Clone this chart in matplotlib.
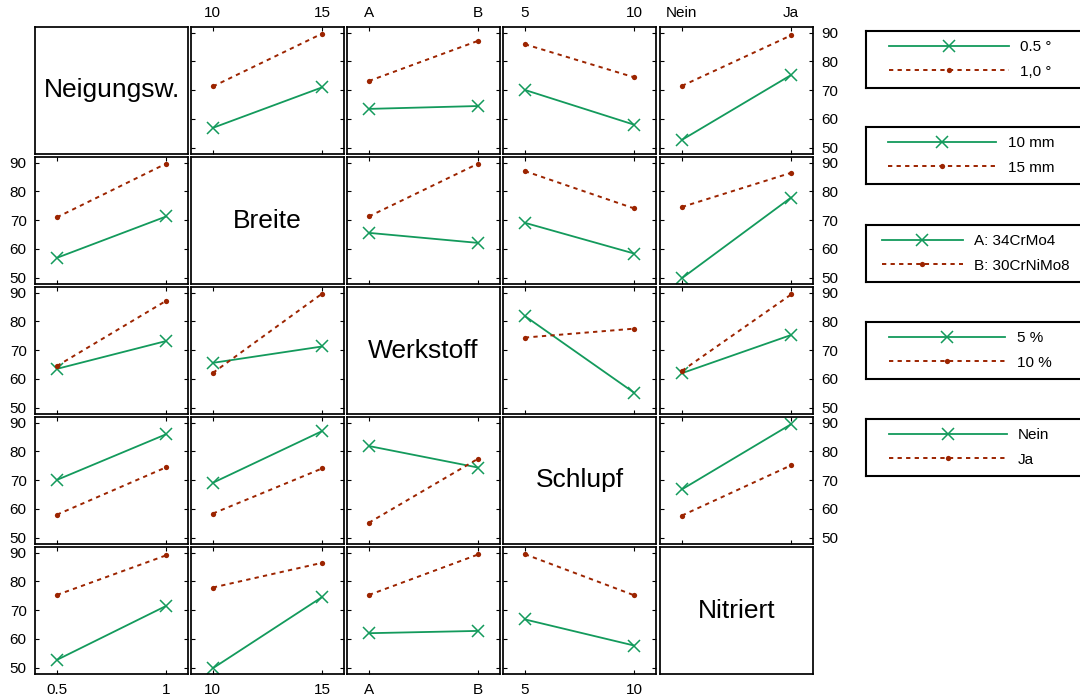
import numpy as np
import matplotlib
matplotlib.use("Agg")
import matplotlib.pyplot as plt

plt.rcParams['font.family'] = ['Liberation Sans', 'DejaVu Sans']

# factors of the experiment
names = ['Neigungsw.', 'Breite', 'Werkstoff', 'Schlupf', 'Nitriert']
levels = [['0.5', '1'], ['10', '15'], ['A', 'B'], ['5', '10'], ['Nein', 'Ja']]
legend_labels = [['0.5 °', '1,0 °'],
                 ['10 mm', '15 mm'],
                 ['A: 34CrMo4', 'B: 30CrNiMo8'],
                 ['5 %', '10 %'],
                 ['Nein', 'Ja']]

# two-way cell means, rows = levels of first factor, cols = levels of second
neig_breite = [[56.9, 71.0], [71.3, 89.7]]
neig_werkstoff = [[63.5, 64.5], [73.2, 87.2]]
neig_schlupf = [[70.1, 58.0], [86.0, 74.5]]
neig_nitriert = [[52.7, 75.3], [71.5, 89.1]]
breite_werkstoff = [[65.6, 62.1], [71.3, 89.7]]
breite_schlupf = [[69.1, 58.4], [87.1, 74.1]]
breite_nitriert = [[49.8, 77.9], [74.6, 86.5]]
werkstoff_schlupf = [[81.9, 55.2], [74.4, 77.5]]
werkstoff_nitriert = [[62.0, 75.3], [62.8, 89.4]]
schlupf_nitriert = [[66.8, 89.5], [57.7, 75.2]]

means = {(0, 1): neig_breite, (0, 2): neig_werkstoff, (0, 3): neig_schlupf,
         (0, 4): neig_nitriert, (1, 2): breite_werkstoff, (1, 3): breite_schlupf,
         (1, 4): breite_nitriert, (2, 3): werkstoff_schlupf,
         (2, 4): werkstoff_nitriert, (3, 4): schlupf_nitriert}

green = '#139a5c'
red = '#9c2400'
styles = [dict(color=green, ls='-', lw=1.3, marker='x', ms=9, mew=1.1),
          dict(color=red, ls=(0, (2.2, 2.2)), lw=1.4, marker='o', ms=3.8, mew=0)]

W, H = 1080, 699
fig = plt.figure(figsize=(W / 100, H / 100), dpi=100)

col_left = [35, 191, 347, 503, 660]
row_top = [27, 157, 287, 417, 547]
pw, ph = 153, 127
n = len(names)

handles = {}
for i in range(n):
    for j in range(n):
        ax = fig.add_axes([col_left[j] / W, 1 - (row_top[i] + ph) / H, pw / W, ph / H])
        for s in ax.spines.values():
            s.set_linewidth(1.25)
        if i == j:
            ax.set_xticks([])
            ax.set_yticks([])
            ax.text(0.5, 0.5, names[i], transform=ax.transAxes,
                    ha='center', va='center', fontsize=19)
            continue
        tab = np.array(means[(min(i, j), max(i, j))])
        if i > j:
            tab = tab.T
        x = np.arange(2)
        lines = []
        for k in range(2):
            ln, = ax.plot(x, tab[k], **styles[k])
            lines.append(ln)
        handles.setdefault(i, lines)
        ax.set_xlim(-0.2, 1.2)
        ax.set_ylim(47.8, 92)
        ax.set_xticks(x)
        ax.set_xticklabels(levels[j])
        ax.set_yticks([50, 60, 70, 80, 90])
        ax.tick_params(direction='in', length=3, width=0.8, labelsize=11,
                       top=True, right=True, pad=6,
                       labelleft=(j == 0), labelright=(j == n - 1),
                       labeltop=(i == 0), labelbottom=(i == n - 1))
        ax.tick_params(axis='x', which='both', pad=5)
        if i == n - 1:
            for t in ax.get_xticklabels():
                t.set_y(-0.02)

# one legend box per factor along the right side
leg_top = [31, 127, 225, 322, 419]
leg_h = 57
leg_left = 866
handle_off = [23, 22, 16, 23, 23]
handle_len = [7.85, 7.1, 5.3, 7.6, 7.7]
for i in range(n):
    lax = fig.add_axes([leg_left / W, 1 - (leg_top[i] + leg_h) / H, 240 / W, leg_h / H])
    lax.set_xticks([])
    lax.set_yticks([])
    for s in lax.spines.values():
        s.set_linewidth(1.5)
    lax.legend(handles[i], legend_labels[i], loc='center left',
               bbox_to_anchor=(handle_off[i] / 240, 0.5), frameon=False,
               borderpad=0, borderaxespad=0, handlelength=handle_len[i],
               handletextpad=0.75, labelspacing=0.68, fontsize=11)

fig.savefig('out.png', dpi=100)
